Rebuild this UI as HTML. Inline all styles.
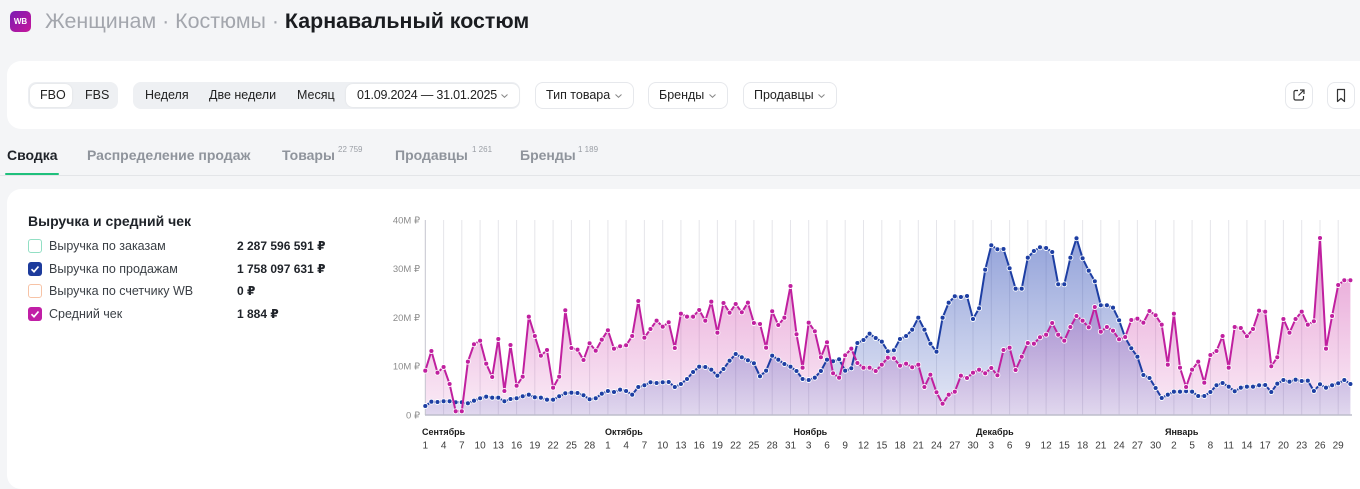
<!DOCTYPE html>
<html><head><meta charset="utf-8"><style>
*{box-sizing:border-box}
body{margin:0;width:1360px;height:466px;overflow:hidden;background:#f4f5f7;position:relative;font-family:"Liberation Sans","DejaVu Sans",sans-serif;color:#1f2329}
.a{position:absolute;white-space:nowrap}
.seg{position:absolute;top:82px;height:27px;background:#eef0f3;border-radius:8px}
.pill{position:absolute;top:84px;height:23px;background:#fff;border-radius:7px;box-shadow:0 0 2px rgba(0,0,0,.08)}
.btn{position:absolute;top:82px;height:27px;background:#fff;border:1px solid #e6e8ec;border-radius:8px}
.ft{position:absolute;font-size:12.5px;line-height:27px;top:82px;color:#222}
.tab{position:absolute;top:146px;font-size:14px;font-weight:bold;color:#8f949c;line-height:18px}
.sup{position:absolute;top:145px;font-size:8px;color:#9a9ea5}
.lg{position:absolute;left:49px;font-size:12.5px;color:#3a3f45;line-height:16px}
.lv{position:absolute;left:237px;font-size:12px;font-weight:bold;color:#1f2329;line-height:16px}
.cb{position:absolute;left:28px;width:14px;height:14px;border-radius:3px}
</style></head><body>

<div class="a" style="left:10px;top:11px;width:21px;height:21px;border-radius:5px;background:linear-gradient(135deg,#7a1db3,#c7169b);color:#fff;font-size:8px;font-weight:bold;text-align:center;line-height:21px">WB</div>
<div class="a" style="left:45px;top:7px;font-size:21.4px;line-height:28px;color:#a3a6ad">Женщинам · Костюмы · <span style="color:#1a1c20;font-weight:bold">Карнавальный костюм</span></div>

<div class="a" style="left:7px;top:61px;width:1400px;height:68px;background:#fff;border-radius:14px"></div>

<div class="seg" style="left:28px;width:90px"></div>
<div class="pill" style="left:30px;width:42px"></div>
<div class="ft" style="left:40px">FBO</div>
<div class="ft" style="left:85px">FBS</div>

<div class="seg" style="left:133px;width:387px"></div>
<div class="ft" style="left:145px">Неделя</div>
<div class="ft" style="left:209px">Две недели</div>
<div class="ft" style="left:297px">Месяц</div>
<div class="pill" style="left:346px;width:173px"></div>
<div class="ft" style="left:357px;letter-spacing:-0.2px">01.09.2024 — 31.01.2025</div>
<svg class="a" style="left:500px;top:93px" width="9" height="6"><polyline points="1.5,1.5 4.5,4.3 7.5,1.5" fill="none" stroke="#888" stroke-width="1"/></svg>

<div class="btn" style="left:535px;width:99px"></div>
<div class="ft" style="left:546px">Тип товара</div>
<svg class="a" style="left:614px;top:93px" width="9" height="6"><polyline points="1.5,1.5 4.5,4.3 7.5,1.5" fill="none" stroke="#888" stroke-width="1"/></svg>
<div class="btn" style="left:648px;width:80px"></div>
<div class="ft" style="left:659px">Бренды</div>
<svg class="a" style="left:708px;top:93px" width="9" height="6"><polyline points="1.5,1.5 4.5,4.3 7.5,1.5" fill="none" stroke="#888" stroke-width="1"/></svg>
<div class="btn" style="left:743px;width:94px"></div>
<div class="ft" style="left:754px">Продавцы</div>
<svg class="a" style="left:817px;top:93px" width="9" height="6"><polyline points="1.5,1.5 4.5,4.3 7.5,1.5" fill="none" stroke="#888" stroke-width="1"/></svg>

<div class="btn" style="left:1285px;width:28px"></div>
<svg class="a" style="left:1292px;top:88px" width="14" height="14"><path d="M6 2.5H3.5a1.5 1.5 0 0 0-1.5 1.5v6.5a1.5 1.5 0 0 0 1.5 1.5H10a1.5 1.5 0 0 0 1.5-1.5V8M8 2h4v4M12 2L6.5 7.5" fill="none" stroke="#333" stroke-width="1.2"/></svg>
<div class="btn" style="left:1327px;width:28px"></div>
<svg class="a" style="left:1334px;top:88px" width="14" height="15"><path d="M3.5 1.5h7v12l-3.5-3-3.5 3z" fill="none" stroke="#333" stroke-width="1.2" stroke-linejoin="round"/></svg>

<div class="tab" style="left:7px;color:#1f2329">Сводка</div>
<div class="tab" style="left:87px">Распределение продаж</div>
<div class="tab" style="left:282px">Товары</div><div class="sup" style="left:338px">22 759</div>
<div class="tab" style="left:395px">Продавцы</div><div class="sup" style="left:472px">1 261</div>
<div class="tab" style="left:520px">Бренды</div><div class="sup" style="left:578px">1 189</div>
<div class="a" style="left:0;top:175px;width:1360px;height:1px;background:#e3e5e8"></div>
<div class="a" style="left:5px;top:173px;width:54px;height:2px;background:#1fc07c;border-radius:1px"></div>

<div class="a" style="left:7px;top:189px;width:1400px;height:300px;background:#fff;border-radius:14px"></div>

<div class="a" style="left:28px;top:212px;font-size:14px;font-weight:bold;line-height:18px;color:#1f2329">Выручка и средний чек</div>
<div class="cb" style="top:239px;border:1.5px solid #92dfc4;background:#fff"></div>
<div class="lg" style="top:238px">Выручка по заказам</div>
<div class="lv" style="top:238px">2 287 596 591 ₽</div>
<div class="cb" style="top:262px;background:#1d3b9c"></div>
<svg class="a" style="left:28px;top:262px" width="14" height="14"><polyline points="3.5,7.2 6,9.7 10.5,4.5" fill="none" stroke="#fff" stroke-width="1.7"/></svg>
<div class="lg" style="top:261px">Выручка по продажам</div>
<div class="lv" style="top:261px">1 758 097 631 ₽</div>
<div class="cb" style="top:284px;border:1.5px solid #f7c3a6;background:#fff"></div>
<div class="lg" style="top:283px">Выручка по счетчику WB</div>
<div class="lv" style="top:283px">0 ₽</div>
<div class="cb" style="top:307px;background:#c11fa6"></div>
<svg class="a" style="left:28px;top:307px" width="14" height="14"><polyline points="3.5,7.2 6,9.7 10.5,4.5" fill="none" stroke="#fff" stroke-width="1.7"/></svg>
<div class="lg" style="top:306px">Средний чек</div>
<div class="lv" style="top:306px">1 884 ₽</div>

<svg class="a" style="left:0;top:0" width="1360" height="466" viewBox="0 0 1360 466" font-family="Liberation Sans, DejaVu Sans, sans-serif">
<defs>
<linearGradient id="gm" gradientUnits="userSpaceOnUse" x1="0" y1="238" x2="0" y2="415"><stop offset="0" stop-color="#c8289f" stop-opacity="0.45"/><stop offset="1" stop-color="#c8289f" stop-opacity="0.09"/></linearGradient>
<linearGradient id="gb" gradientUnits="userSpaceOnUse" x1="0" y1="238" x2="0" y2="415"><stop offset="0" stop-color="#2846b4" stop-opacity="0.5"/><stop offset="1" stop-color="#2846b4" stop-opacity="0.12"/></linearGradient>
<marker id="mb" markerWidth="8" markerHeight="8" refX="4" refY="4" markerUnits="userSpaceOnUse"><circle cx="4" cy="4" r="2.5" fill="#1d3ea3" stroke="#fff" stroke-width="0.9"/></marker>
<marker id="mm" markerWidth="8" markerHeight="8" refX="4" refY="4" markerUnits="userSpaceOnUse"><circle cx="4" cy="4" r="2.5" fill="#c0209f" stroke="#fff" stroke-width="0.9"/></marker>
</defs>
<path d="M443.6 220V415M461.8 220V415M480.1 220V415M498.3 220V415M516.6 220V415M534.8 220V415M553.1 220V415M571.4 220V415M589.6 220V415M607.9 220V415M626.1 220V415M644.4 220V415M662.7 220V415M680.9 220V415M699.2 220V415M717.4 220V415M735.7 220V415M753.9 220V415M772.2 220V415M790.5 220V415M808.7 220V415M827 220V415M845.2 220V415M863.5 220V415M881.8 220V415M900 220V415M918.3 220V415M936.5 220V415M954.8 220V415M973 220V415M991.3 220V415M1009.6 220V415M1027.8 220V415M1046.1 220V415M1064.3 220V415M1082.6 220V415M1100.8 220V415M1119.1 220V415M1137.4 220V415M1155.6 220V415M1173.9 220V415M1192.1 220V415M1210.4 220V415M1228.7 220V415M1246.9 220V415M1265.2 220V415M1283.4 220V415M1301.7 220V415M1320 220V415M1338.2 220V415" stroke="#e5e5ea" stroke-width="1" fill="none"/>

<path fill="url(#gm)" d="M425.3 415L425.3 370.7L431.4 351L437.5 372.7L443.6 367L449.6 384L455.7 411.3L461.8 411.3L467.9 361.7L474 344.3L480.1 340.7L486.2 363.7L492.2 377L498.3 339L504.4 391L510.5 345L516.6 385.7L522.7 376.7L528.8 316.7L534.8 336L540.9 355.7L547 350L553.1 387.7L559.2 376.7L565.3 310.3L571.4 348L577.5 349.7L583.5 360L589.6 343.3L595.7 350.7L601.8 339.7L607.9 330.3L614 348.7L620.1 346.3L626.1 345.3L632.2 336L638.3 301L644.4 337.7L650.5 329L656.6 320.7L662.7 326.7L668.7 322.3L674.8 348L680.9 313.7L687 316.7L693.1 316.7L699.2 310L705.3 320.7L711.3 301.7L717.4 332.7L723.5 303L729.6 312.7L735.7 304L741.8 312.3L747.9 302.7L753.9 323L760 324L766.1 347.7L772.2 311.3L778.3 325L784.4 317.7L790.5 286L796.5 334.3L802.6 367.7L808.7 322.7L814.8 331.3L820.9 357.3L827 342.3L833.1 373.3L839.1 377.7L845.2 355.3L851.3 348.7L857.4 363L863.5 367.7L869.6 367.7L875.7 371L881.8 364.7L887.8 357.7L893.9 358.3L900 365.7L906.1 363.7L912.2 367.3L918.3 364.7L924.4 387L930.4 374.7L936.5 392.3L942.6 403.7L948.7 394.7L954.8 391.7L960.9 375.7L967 378L973 372.7L979.1 369.7L985.2 373.3L991.3 368L997.4 375.3L1003.5 350L1009.6 347.7L1015.6 370L1021.7 356.7L1027.8 343L1033.9 343.7L1040 337.3L1046.1 334.7L1052.2 323L1058.2 334.7L1064.3 340.7L1070.4 327L1076.5 316L1082.6 320.7L1088.7 327.3L1094.8 307L1100.8 331.7L1106.9 327L1113 330.7L1119.1 339.3L1125.2 337L1131.3 320L1137.4 318.7L1143.4 322.7L1149.5 311L1155.6 315.3L1161.7 324.7L1167.8 364.7L1173.9 313.7L1180 367.7L1186.1 387L1192.1 369.7L1198.2 361.7L1204.3 382.7L1210.4 355L1216.5 351L1222.6 336L1228.7 367.7L1234.7 327L1240.8 328L1246.9 336.3L1253 329L1259.1 310.7L1265.2 311.7L1271.3 366.3L1277.3 357.3L1283.4 319L1289.5 332.7L1295.6 319L1301.7 311.7L1307.8 324.7L1313.9 321.3L1320 238L1326 348.7L1332.1 316L1338.2 285L1344.3 280.3L1350.4 280.3L1350.4 415Z"/>

<path fill="url(#gb)" d="M425.3 415L425.3 406L431.4 401.7L437.5 402L443.6 401.3L449.6 401.3L455.7 402.3L461.8 402.3L467.9 403.3L474 400.7L480.1 398.3L486.2 396.7L492.2 397.7L498.3 397.7L504.4 401.3L510.5 399L516.6 398.3L522.7 396.3L528.8 394.7L534.8 397.3L540.9 397.7L547 399.7L553.1 399.7L559.2 396.3L565.3 393.3L571.4 392.7L577.5 393L583.5 395.3L589.6 399.3L595.7 398.3L601.8 393.7L607.9 391L614 392L620.1 389.7L626.1 391L632.2 394.7L638.3 387L644.4 385.3L650.5 382.3L656.6 383L662.7 382.3L668.7 382L674.8 387L680.9 384L687 379L693.1 372L699.2 366.7L705.3 367L711.3 369.7L717.4 375.7L723.5 369L729.6 360.7L735.7 354L741.8 357.3L747.9 360.3L753.9 363.3L760 376.3L766.1 370.7L772.2 355.7L778.3 359.7L784.4 364L790.5 366.7L796.5 371L802.6 379L808.7 380L814.8 377.7L820.9 371L827 359.7L833.1 361.3L839.1 359.3L845.2 370.7L851.3 368.3L857.4 343L863.5 340L869.6 333.7L875.7 338L881.8 341.7L887.8 351.3L893.9 350.3L900 339L906.1 336L912.2 329.7L918.3 317.7L924.4 329.7L930.4 343.7L936.5 351.7L942.6 317.7L948.7 302.7L954.8 296.3L960.9 297L967 296L973 319L979.1 308.3L985.2 269.7L991.3 245.3L997.4 249.3L1003.5 249L1009.6 268.3L1015.6 288.7L1021.7 288.7L1027.8 257.7L1033.9 251L1040 247.3L1046.1 248L1052.2 252L1058.2 284.3L1064.3 284.3L1070.4 257.7L1076.5 238.3L1082.6 258.3L1088.7 270.7L1094.8 281.3L1100.8 305.3L1106.9 305.3L1113 307.7L1119.1 320.3L1125.2 337.7L1131.3 348.3L1137.4 356.7L1143.4 375L1149.5 378L1155.6 388L1161.7 398L1167.8 394.7L1173.9 391.7L1180 391.7L1186.1 391.3L1192.1 391.7L1198.2 396L1204.3 396L1210.4 392L1216.5 385.3L1222.6 383L1228.7 386.7L1234.7 391.3L1240.8 387.7L1246.9 386.7L1253 386.7L1259.1 385.3L1265.2 385L1271.3 392L1277.3 383.7L1283.4 380L1289.5 381.7L1295.6 379.7L1301.7 381L1307.8 380.7L1313.9 391L1320 384.3L1326 387.7L1332.1 385.3L1338.2 383.3L1344.3 380L1350.4 384L1350.4 415Z"/>

<path d="M425.3 220V415" stroke="#c4c4ce" stroke-width="1"/>
<path d="M425 415H1352" stroke="#bdbdcc" stroke-width="1.5"/>

<path fill="none" stroke="#1d3ea3" stroke-width="2" marker-start="url(#mb)" marker-mid="url(#mb)" marker-end="url(#mb)" d="M425.3 406L431.4 401.7L437.5 402L443.6 401.3L449.6 401.3L455.7 402.3L461.8 402.3L467.9 403.3L474 400.7L480.1 398.3L486.2 396.7L492.2 397.7L498.3 397.7L504.4 401.3L510.5 399L516.6 398.3L522.7 396.3L528.8 394.7L534.8 397.3L540.9 397.7L547 399.7L553.1 399.7L559.2 396.3L565.3 393.3L571.4 392.7L577.5 393L583.5 395.3L589.6 399.3L595.7 398.3L601.8 393.7L607.9 391L614 392L620.1 389.7L626.1 391L632.2 394.7L638.3 387L644.4 385.3L650.5 382.3L656.6 383L662.7 382.3L668.7 382L674.8 387L680.9 384L687 379L693.1 372L699.2 366.7L705.3 367L711.3 369.7L717.4 375.7L723.5 369L729.6 360.7L735.7 354L741.8 357.3L747.9 360.3L753.9 363.3L760 376.3L766.1 370.7L772.2 355.7L778.3 359.7L784.4 364L790.5 366.7L796.5 371L802.6 379L808.7 380L814.8 377.7L820.9 371L827 359.7L833.1 361.3L839.1 359.3L845.2 370.7L851.3 368.3L857.4 343L863.5 340L869.6 333.7L875.7 338L881.8 341.7L887.8 351.3L893.9 350.3L900 339L906.1 336L912.2 329.7L918.3 317.7L924.4 329.7L930.4 343.7L936.5 351.7L942.6 317.7L948.7 302.7L954.8 296.3L960.9 297L967 296L973 319L979.1 308.3L985.2 269.7L991.3 245.3L997.4 249.3L1003.5 249L1009.6 268.3L1015.6 288.7L1021.7 288.7L1027.8 257.7L1033.9 251L1040 247.3L1046.1 248L1052.2 252L1058.2 284.3L1064.3 284.3L1070.4 257.7L1076.5 238.3L1082.6 258.3L1088.7 270.7L1094.8 281.3L1100.8 305.3L1106.9 305.3L1113 307.7L1119.1 320.3L1125.2 337.7L1131.3 348.3L1137.4 356.7L1143.4 375L1149.5 378L1155.6 388L1161.7 398L1167.8 394.7L1173.9 391.7L1180 391.7L1186.1 391.3L1192.1 391.7L1198.2 396L1204.3 396L1210.4 392L1216.5 385.3L1222.6 383L1228.7 386.7L1234.7 391.3L1240.8 387.7L1246.9 386.7L1253 386.7L1259.1 385.3L1265.2 385L1271.3 392L1277.3 383.7L1283.4 380L1289.5 381.7L1295.6 379.7L1301.7 381L1307.8 380.7L1313.9 391L1320 384.3L1326 387.7L1332.1 385.3L1338.2 383.3L1344.3 380L1350.4 384"/>

<path fill="none" stroke="#c0209f" stroke-width="2" marker-start="url(#mm)" marker-mid="url(#mm)" marker-end="url(#mm)" d="M425.3 370.7L431.4 351L437.5 372.7L443.6 367L449.6 384L455.7 411.3L461.8 411.3L467.9 361.7L474 344.3L480.1 340.7L486.2 363.7L492.2 377L498.3 339L504.4 391L510.5 345L516.6 385.7L522.7 376.7L528.8 316.7L534.8 336L540.9 355.7L547 350L553.1 387.7L559.2 376.7L565.3 310.3L571.4 348L577.5 349.7L583.5 360L589.6 343.3L595.7 350.7L601.8 339.7L607.9 330.3L614 348.7L620.1 346.3L626.1 345.3L632.2 336L638.3 301L644.4 337.7L650.5 329L656.6 320.7L662.7 326.7L668.7 322.3L674.8 348L680.9 313.7L687 316.7L693.1 316.7L699.2 310L705.3 320.7L711.3 301.7L717.4 332.7L723.5 303L729.6 312.7L735.7 304L741.8 312.3L747.9 302.7L753.9 323L760 324L766.1 347.7L772.2 311.3L778.3 325L784.4 317.7L790.5 286L796.5 334.3L802.6 367.7L808.7 322.7L814.8 331.3L820.9 357.3L827 342.3L833.1 373.3L839.1 377.7L845.2 355.3L851.3 348.7L857.4 363L863.5 367.7L869.6 367.7L875.7 371L881.8 364.7L887.8 357.7L893.9 358.3L900 365.7L906.1 363.7L912.2 367.3L918.3 364.7L924.4 387L930.4 374.7L936.5 392.3L942.6 403.7L948.7 394.7L954.8 391.7L960.9 375.7L967 378L973 372.7L979.1 369.7L985.2 373.3L991.3 368L997.4 375.3L1003.5 350L1009.6 347.7L1015.6 370L1021.7 356.7L1027.8 343L1033.9 343.7L1040 337.3L1046.1 334.7L1052.2 323L1058.2 334.7L1064.3 340.7L1070.4 327L1076.5 316L1082.6 320.7L1088.7 327.3L1094.8 307L1100.8 331.7L1106.9 327L1113 330.7L1119.1 339.3L1125.2 337L1131.3 320L1137.4 318.7L1143.4 322.7L1149.5 311L1155.6 315.3L1161.7 324.7L1167.8 364.7L1173.9 313.7L1180 367.7L1186.1 387L1192.1 369.7L1198.2 361.7L1204.3 382.7L1210.4 355L1216.5 351L1222.6 336L1228.7 367.7L1234.7 327L1240.8 328L1246.9 336.3L1253 329L1259.1 310.7L1265.2 311.7L1271.3 366.3L1277.3 357.3L1283.4 319L1289.5 332.7L1295.6 319L1301.7 311.7L1307.8 324.7L1313.9 321.3L1320 238L1326 348.7L1332.1 316L1338.2 285L1344.3 280.3L1350.4 280.3"/>

<g font-size="9.5" fill="#8c8c8c" text-anchor="end">
<text x="420" y="223.5">40M ₽</text>
<text x="420" y="272.2">30M ₽</text>
<text x="420" y="321">20M ₽</text>
<text x="420" y="369.7">10M ₽</text>
<text x="420" y="418.5">0 ₽</text>
</g>
<g font-size="9" font-weight="bold" fill="#1a1a1a">
<text x="422" y="435">Сентябрь</text>
<text x="605" y="435">Октябрь</text>
<text x="793.5" y="435">Ноябрь</text>
<text x="976" y="435">Декабрь</text>
<text x="1165" y="435">Январь</text>
</g>
<g font-size="10" fill="#3c3c3c" text-anchor="middle">
<text x="425.3" y="448.5">1</text><text x="443.6" y="448.5">4</text><text x="461.8" y="448.5">7</text><text x="480.1" y="448.5">10</text><text x="498.3" y="448.5">13</text><text x="516.6" y="448.5">16</text><text x="534.8" y="448.5">19</text><text x="553.1" y="448.5">22</text><text x="571.4" y="448.5">25</text><text x="589.6" y="448.5">28</text>
<text x="607.9" y="448.5">1</text><text x="626.1" y="448.5">4</text><text x="644.4" y="448.5">7</text><text x="662.7" y="448.5">10</text><text x="680.9" y="448.5">13</text><text x="699.2" y="448.5">16</text><text x="717.4" y="448.5">19</text><text x="735.7" y="448.5">22</text><text x="753.9" y="448.5">25</text><text x="772.2" y="448.5">28</text><text x="790.5" y="448.5">31</text>
<text x="808.7" y="448.5">3</text><text x="827" y="448.5">6</text><text x="845.2" y="448.5">9</text><text x="863.5" y="448.5">12</text><text x="881.8" y="448.5">15</text><text x="900" y="448.5">18</text><text x="918.3" y="448.5">21</text><text x="936.5" y="448.5">24</text><text x="954.8" y="448.5">27</text><text x="973" y="448.5">30</text>
<text x="991.3" y="448.5">3</text><text x="1009.6" y="448.5">6</text><text x="1027.8" y="448.5">9</text><text x="1046.1" y="448.5">12</text><text x="1064.3" y="448.5">15</text><text x="1082.6" y="448.5">18</text><text x="1100.8" y="448.5">21</text><text x="1119.1" y="448.5">24</text><text x="1137.4" y="448.5">27</text><text x="1155.6" y="448.5">30</text>
<text x="1173.9" y="448.5">2</text><text x="1192.1" y="448.5">5</text><text x="1210.4" y="448.5">8</text><text x="1228.7" y="448.5">11</text><text x="1246.9" y="448.5">14</text><text x="1265.2" y="448.5">17</text><text x="1283.4" y="448.5">20</text><text x="1301.7" y="448.5">23</text><text x="1320" y="448.5">26</text><text x="1338.2" y="448.5">29</text>
</g>
</svg>
</body></html>
